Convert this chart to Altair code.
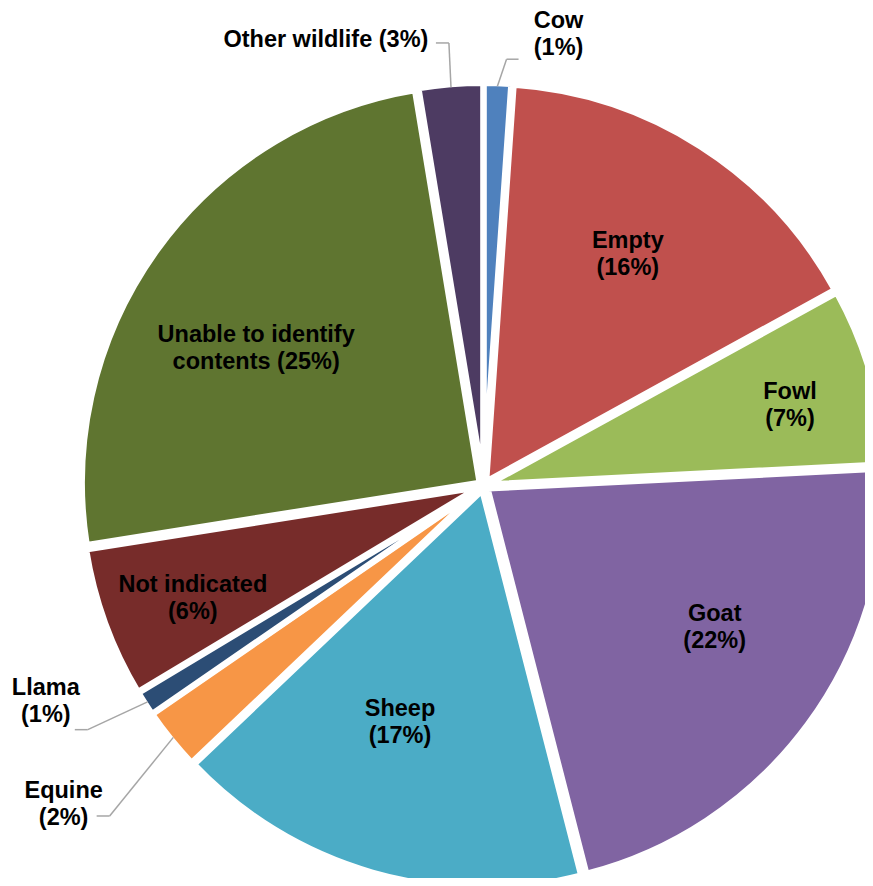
import altair as alt
import pandas as pd

# ---- data ----
categories = ["Cow", "Empty", "Fowl", "Goat", "Sheep", "Equine", "Llama",
              "Not indicated", "Unable to identify contents", "Other wildlife"]
values = [1.1, 15.9, 7.2, 21.8, 16.9, 2.5, 1.0, 6.1, 24.9, 2.6]
labels = ["Cow\n(1%)", "Empty\n(16%)", "Fowl\n(7%)", "Goat\n(22%)", "Sheep\n(17%)",
          "Equine\n(2%)", "Llama\n(1%)", "Not indicated\n(6%)",
          "Unable to identify\ncontents (25%)", "Other wildlife (3%)"]
colors = ["#4F81BD", "#C0504D", "#9BBB59", "#8064A2", "#4BACC6",
          "#F79646", "#2C4D75", "#772C2A", "#5F7530", "#4D3B62"]

# ---- layout: inside label placement (radius px, angle nudge deg) ----
inner_cats = ["Empty", "Fowl", "Goat", "Sheep", "Not indicated", "Unable to identify contents"]
inner_r = [270, 316, 273, 254, 313, 264]
inner_dtheta = [-0.3, 1.7, -4.2, 3.2, -1.75, -5.3]

# ---- layout: leader-line labels for small slices ----
leader_cats = ["Cow", "Other wildlife", "Llama", "Equine"]
leader_r = [427, 444, 465, 499]
leader_dtheta = [1.1, 0.2, 1.1, -2.4]
leader_leg = [12, -13, -13, -13]
leader_tdx = [40, -110, -29, -33]
leader_tdy = [-22, 0, -25, -8]

W, H = 857, 870
CX, CY = 475.6, 477.6
R = 397.6
D = 5          # explosion
EDGE = 399.6   # leader start radius
LH = 27        # label line height

df = pd.DataFrame({"category": categories, "value": values, "label": labels,
                   "order": list(range(len(categories)))})
inner = pd.DataFrame({"category": inner_cats, "lr": inner_r, "ldt": inner_dtheta})
lay = pd.DataFrame({"category": leader_cats, "er": leader_r, "edt": leader_dtheta,
                    "leg": leader_leg, "tdx": leader_tdx, "tdy": leader_tdy})
df = df.merge(inner, on="category", how="left").merge(lay, on="category", how="left").fillna(0)

base = (
    alt.Chart(df)
    .transform_joinaggregate(total="sum(value)")
    .transform_window(cum="sum(value)", sort=[alt.SortField("order")], frame=[None, 0])
    .transform_calculate(a1="2*PI*datum.cum/datum.total")
    .transform_calculate(a0="2*PI*(datum.cum-datum.value)/datum.total")
    .transform_calculate(mid="(datum.a0+datum.a1)/2")
    .transform_calculate(lshift=f"(indexof(datum.label, '\\n') >= 0 ? {LH/2} : 0) + 3")
)

arcs = (
    base.transform_calculate(ex=f"{CX} + {D}*sin(datum.mid)")
    .transform_calculate(ey=f"{CY} - {D}*cos(datum.mid)")
    .mark_arc(radius=R, stroke="white", strokeWidth=6)
    .encode(
        theta=alt.Theta("a0:Q", scale=None, stack=None),
        theta2="a1:Q",
        x=alt.X("ex:Q", scale=None, axis=None),
        y=alt.Y("ey:Q", scale=None, axis=None),
        color=alt.Color("category:N", scale=alt.Scale(domain=categories, range=colors), legend=None),
    )
)

text_style = dict(font="Liberation Sans", fontWeight="bold", fontSize=23.5, lineBreak="\n",
                  lineHeight=LH, align="center", baseline="middle", color="black")

inside = (
    base.transform_filter("datum.lr > 0")
    .transform_calculate(lth="datum.mid + datum.ldt*PI/180")
    .transform_calculate(tx=f"{CX} + datum.lr*sin(datum.lth)")
    .transform_calculate(ty=f"{CY} - datum.lr*cos(datum.lth) - datum.lshift")
    .mark_text(**text_style)
    .encode(x=alt.X("tx:Q", scale=None, axis=None), y=alt.Y("ty:Q", scale=None, axis=None),
            text="label:N")
)

lead = (
    base.transform_filter("datum.er > 0")
    .transform_calculate(sx=f"{CX} + {EDGE}*sin(datum.mid)")
    .transform_calculate(sy=f"{CY} - {EDGE}*cos(datum.mid)")
    .transform_calculate(eth="datum.mid + datum.edt*PI/180")
    .transform_calculate(elx=f"{CX} + datum.er*sin(datum.eth)")
    .transform_calculate(ely=f"{CY} - datum.er*cos(datum.eth)")
    .transform_calculate(endx="datum.elx + datum.leg")
    .transform_calculate(tx="datum.endx + datum.tdx")
    .transform_calculate(ty="datum.ely + datum.tdy - datum.lshift")
)

seg1 = lead.mark_rule(color="#A6A6A6", strokeWidth=1.5).encode(
    x=alt.X("sx:Q", scale=None, axis=None), y=alt.Y("sy:Q", scale=None, axis=None),
    x2="elx:Q", y2="ely:Q")
seg2 = lead.mark_rule(color="#A6A6A6", strokeWidth=1.5).encode(
    x=alt.X("elx:Q", scale=None, axis=None), y=alt.Y("ely:Q", scale=None, axis=None),
    x2="endx:Q", y2="ely:Q")
outside = lead.mark_text(**text_style).encode(
    x=alt.X("tx:Q", scale=None, axis=None), y=alt.Y("ty:Q", scale=None, axis=None),
    text="label:N")

chart = (
    alt.layer(arcs, seg1, seg2, inside, outside)
    .properties(width=W, height=H, autosize="none", padding=0)
    .configure_view(stroke=None)
)

chart.save("out.html", embed_options={"renderer": "svg", "actions": False})
